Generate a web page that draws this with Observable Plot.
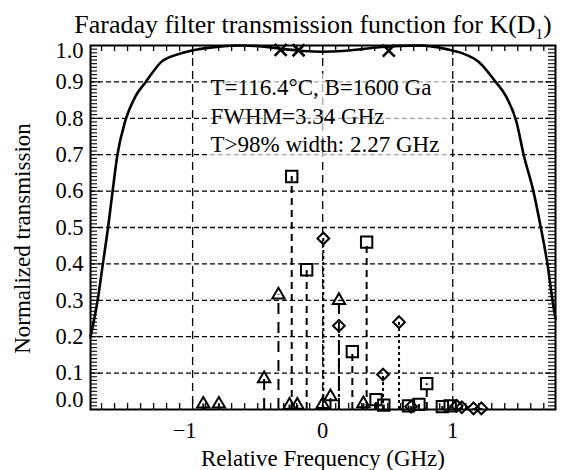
<!DOCTYPE html>
<html><head><meta charset="utf-8">
<script src="https://cdn.jsdelivr.net/npm/d3@7"></script>
<script src="https://cdn.jsdelivr.net/npm/@observablehq/plot@0.6"></script>
<style>html,body{margin:0;padding:0;background:#fff} svg{display:block}</style>
</head><body><div id="chart"></div>
<script>
// ---- data ----
const titleText = "Faraday filter transmission function for K(D1)";
const xTitle = "Relative Frequency (GHz)";
const yTitle = "Normalized transmission";
const noteLines = ["T=116.4°C, B=1600 Ga", "FWHM=3.34 GHz", "T>98% width: 2.27 GHz"];
const noteY = [0.883, 0.805, 0.727];
const noteX = -0.862;

const curveFreq  = [-1.785,-1.73,-1.69,-1.65,-1.615,-1.578,-1.52,-1.44,-1.36,-1.24,-1.12,-0.95,-0.8,-0.63,-0.45,-0.3,-0.15,0,0.15,0.3,0.45,0.6,0.75,0.95,1.1,1.2,1.33,1.41,1.49,1.545,1.62,1.677,1.728,1.767,1.79];
const curveTrans = [0.20,0.30,0.40,0.50,0.60,0.70,0.79,0.86,0.90,0.955,0.975,0.99,0.997,1.0,0.997,0.99,0.985,0.983,0.985,0.99,0.996,0.999,1.0,0.99,0.975,0.955,0.90,0.86,0.79,0.70,0.60,0.50,0.40,0.30,0.25];

const triFreq  = [-0.918,-0.798,-0.45,-0.34,-0.255,-0.195,0.0,0.06,0.125,0.313];
const triTrans = [0.015,0.015,0.085,0.315,0.012,0.012,0.014,0.035,0.30,0.016];

const sqFreq  = [-0.238,-0.123,0.228,0.338,0.41,0.47,0.66,0.74,0.80,0.92,0.98];
const sqTrans = [0.64,0.384,0.159,0.46,0.027,0.012,0.01,0.014,0.071,0.008,0.01];

const diaFreq  = [0.005,0.125,0.464,0.587,0.68,1.03,1.07,1.16,1.22];
const diaTrans = [0.47,0.23,0.096,0.24,0.008,0.01,0.006,0.003,0.003];

const crossFreq  = [-0.323,-0.185,0.508];
const crossTrans = [0.988,0.987,0.986];

const xMajor = [-1, 0, 1];
const yMajor = [0.1,0.2,0.3,0.4,0.5,0.6,0.7,0.8,0.9];
const yLabelVals = [0,0.1,0.2,0.3,0.4,0.5,0.6,0.7,0.8,0.9,1.0];

// ---- tables ----
const curve = curveFreq.map((f,i)=>({f, t: curveTrans[i]}));
const tri = triFreq.map((f,i)=>({f, t: triTrans[i]}));
const sq = sqFreq.map((f,i)=>({f, t: sqTrans[i]}));
const dia = diaFreq.map((f,i)=>({f, t: diaTrans[i]}));
const cross = crossFreq.map((f,i)=>({f, t: crossTrans[i]}));
const notes = noteLines.map((s,i)=>({s, y: noteY[i]}));
const xMinor = d3.range(-17, 18).map(i => i/10).filter(v => !xMajor.includes(v));
const yMinor = d3.range(0, 101).map(i => i/100).filter(v => Math.round(v*100) % 10 !== 0);
const yMaj = d3.range(0, 11).map(i => i/10);

const W = 561, H = 470, ML = 90, MR = 6, MT = 45, MB = 61;
const FW = W - ML - MR, FH = H - MT - MB;
const FONT = "'Liberation Serif','Times New Roman',serif";
const TICKFS = 22.5;
const fmtX = d => d < 0 ? "\u2212" + Math.abs(d) : String(d);
const tk = {stroke: "black", strokeWidth: 1.3};

const plot = Plot.plot({
  width: W, height: H,
  marginLeft: ML, marginRight: MR, marginTop: MT, marginBottom: MB,
  style: {fontFamily: FONT, background: "white", color: "black", overflow: "visible"},
  x: {domain: [-1.785, 1.79], label: null, axis: null},
  y: {domain: [0, 1], label: null, axis: null},
  marks: [
    Plot.ruleY(yMajor, {stroke: "black", strokeWidth: 1.3, strokeDasharray: "5,3"}),
    Plot.ruleX(xMajor, {stroke: "black", strokeWidth: 1.3, strokeDasharray: "8,5"}),
    Plot.rect([0], {x1: -0.877, x2: 0.985, y1: 0.69, y2: 0.922, fill: "white", fillOpacity: 0.65}),
    // stems
    Plot.ruleX(tri, {x: "f", y1: 0, y2: "t", stroke: "black", strokeWidth: 2, strokeDasharray: "11,8"}),
    Plot.ruleX(sq, {x: "f", y1: 0, y2: "t", stroke: "black", strokeWidth: 2, strokeDasharray: "7,5"}),
    Plot.ruleX(dia, {x: "f", y1: 0, y2: "t", stroke: "black", strokeWidth: 2, strokeDasharray: "3,3"}),
    // markers
    Plot.dot(tri, {x: "f", y: "t", symbol: "triangle", r: 4.6, stroke: "black", strokeWidth: 2, fill: "none"}),
    Plot.dot(sq, {x: "f", y: "t", symbol: "square", r: 6.4, stroke: "black", strokeWidth: 2, fill: "none"}),
    Plot.dot(dia, {x: "f", y: "t", symbol: "diamond2", r: 5.3, stroke: "black", strokeWidth: 2, fill: "none"}),
    // transmission curve
    Plot.line(curve, {x: "f", y: "t", curve: "monotone-x", stroke: "black", strokeWidth: 2.6}),
    Plot.dot(cross, {x: "f", y: "t", symbol: "times", r: 5.5, stroke: "black", strokeWidth: 2.6}),
    // annotation
    Plot.text(notes, {x: noteX, y: "y", text: "s", textAnchor: "start", lineAnchor: "middle", fontSize: 23, fill: "black"}),
    Plot.frame({stroke: "black", strokeWidth: 2}),
    // ticks (inward)
    Plot.tickX(xMinor, {x: d => d, insetTop: FH - 6, ...tk}),
    Plot.tickX(xMajor, {x: d => d, insetTop: FH - 10, ...tk}),
    Plot.tickX(xMinor, {x: d => d, insetBottom: FH - 6, ...tk}),
    Plot.tickX(xMajor, {x: d => d, insetBottom: FH - 10, ...tk}),
    Plot.tickY(yMinor, {y: d => d, insetRight: FW - 7, stroke: "black", strokeWidth: 1.1}),
    Plot.tickY(yMaj, {y: d => d, insetRight: FW - 10, stroke: "black", strokeWidth: 1.1}),
    Plot.tickY(yMinor, {y: d => d, insetLeft: FW - 7, stroke: "black", strokeWidth: 1.1}),
    Plot.tickY(yMaj, {y: d => d, insetLeft: FW - 10, stroke: "black", strokeWidth: 1.1}),
    // tick labels
    Plot.text(yLabelVals.filter(v => v > 0 && v < 1), {frameAnchor: "left", y: d => d, text: d => d.toFixed(1), textAnchor: "end", dx: -7, fontSize: TICKFS, fill: "black"}),
    Plot.text([0], {frameAnchor: "left", y: d => d, text: d => d.toFixed(1), textAnchor: "end", dx: -7, dy: -10, fontSize: TICKFS, fill: "black"}),
    Plot.text([1], {frameAnchor: "left", y: d => d, text: d => d.toFixed(1), textAnchor: "end", dx: -7, dy: 5, fontSize: TICKFS, fill: "black"}),
    Plot.text(xMajor.filter(v => v >= 0), {frameAnchor: "bottom", x: d => d, text: fmtX, lineAnchor: "middle", dy: 21, fontSize: TICKFS, fill: "black"}),
    Plot.text(xMajor.filter(v => v < 0), {frameAnchor: "bottom", x: d => d, text: fmtX, lineAnchor: "middle", dy: 21, dx: -8, fontSize: TICKFS, fill: "black"}),
    // titles
    Plot.text([xTitle], {frameAnchor: "bottom", textAnchor: "middle", lineAnchor: "middle", dy: 49, fontSize: 23, fill: "black"}),
    Plot.text([yTitle], {frameAnchor: "left", textAnchor: "middle", lineAnchor: "middle", rotate: -90, dx: -68, dy: 11, fontSize: 23, fill: "black"}),
    Plot.text([titleText], {frameAnchor: "top", textAnchor: "middle", lineAnchor: "middle", dy: -21, dx: -10, fontSize: 26, fill: "black"})
  ]
});

// subscript for the title's "1"
const ns = "http://www.w3.org/2000/svg";
for (const t of plot.querySelectorAll("text")) {
  if (t.textContent === titleText) {
    t.textContent = "";
    const a = document.createElementNS(ns, "tspan"); a.textContent = titleText.slice(0, -2);
    const b = document.createElementNS(ns, "tspan"); b.textContent = "1"; b.setAttribute("dy", "6"); b.setAttribute("font-size", "15");
    const c = document.createElementNS(ns, "tspan"); c.textContent = ")"; c.setAttribute("dy", "-6");
    t.append(a, b, c);
  }
}
document.getElementById("chart").appendChild(plot);
</script>
</body></html>
